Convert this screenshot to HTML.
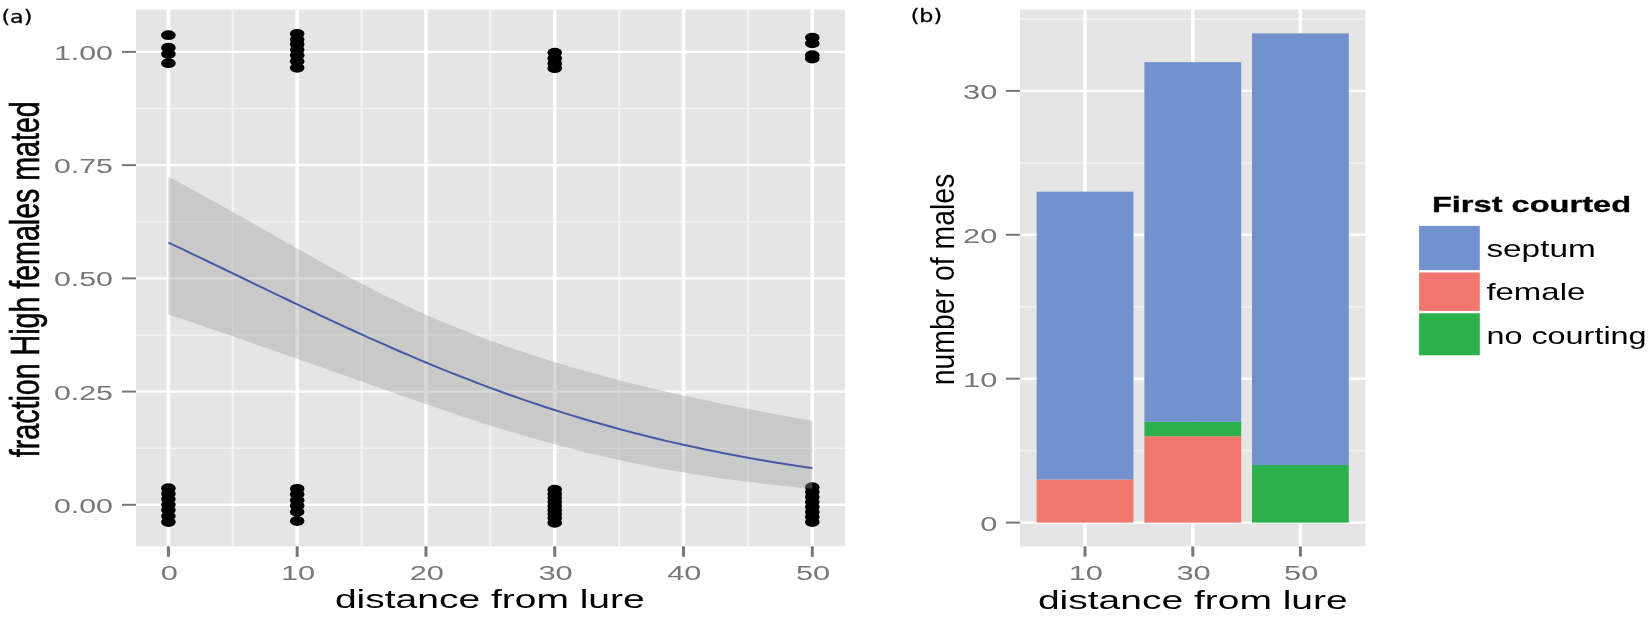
<!DOCTYPE html>
<html lang="en"><head><meta charset="utf-8"><title>Figure</title>
<style>html,body{margin:0;padding:0;background:#fff;}body{width:1650px;height:618px;overflow:hidden;}svg{display:block;filter:blur(0.45px);}</style>
</head><body>
<svg width="1650" height="618" viewBox="0 0 1650 618">
<rect x="136" y="9.7" width="709" height="536.5999999999999" fill="#e5e5e5"/>
<line x1="136" x2="845" y1="448.19" y2="448.19" stroke="#f2f2f2" stroke-width="1.4"/>
<line x1="136" x2="845" y1="334.96" y2="334.96" stroke="#f2f2f2" stroke-width="1.4"/>
<line x1="136" x2="845" y1="221.74" y2="221.74" stroke="#f2f2f2" stroke-width="1.4"/>
<line x1="136" x2="845" y1="108.51" y2="108.51" stroke="#f2f2f2" stroke-width="1.4"/>
<line y1="9.7" y2="546.3" x1="232.79" x2="232.79" stroke="#f2f2f2" stroke-width="2.2"/>
<line y1="9.7" y2="546.3" x1="361.57" x2="361.57" stroke="#f2f2f2" stroke-width="2.2"/>
<line y1="9.7" y2="546.3" x1="490.35" x2="490.35" stroke="#f2f2f2" stroke-width="2.2"/>
<line y1="9.7" y2="546.3" x1="619.13" x2="619.13" stroke="#f2f2f2" stroke-width="2.2"/>
<line y1="9.7" y2="546.3" x1="747.91" x2="747.91" stroke="#f2f2f2" stroke-width="2.2"/>
<line x1="136" x2="845" y1="504.80" y2="504.80" stroke="#fff" stroke-width="2.4"/>
<line x1="136" x2="845" y1="391.58" y2="391.58" stroke="#fff" stroke-width="2.4"/>
<line x1="136" x2="845" y1="278.35" y2="278.35" stroke="#fff" stroke-width="2.4"/>
<line x1="136" x2="845" y1="165.13" y2="165.13" stroke="#fff" stroke-width="2.4"/>
<line x1="136" x2="845" y1="51.90" y2="51.90" stroke="#fff" stroke-width="2.4"/>
<line y1="9.7" y2="546.3" x1="168.40" x2="168.40" stroke="#fff" stroke-width="3.6"/>
<line y1="9.7" y2="546.3" x1="297.18" x2="297.18" stroke="#fff" stroke-width="3.6"/>
<line y1="9.7" y2="546.3" x1="425.96" x2="425.96" stroke="#fff" stroke-width="3.6"/>
<line y1="9.7" y2="546.3" x1="554.74" x2="554.74" stroke="#fff" stroke-width="3.6"/>
<line y1="9.7" y2="546.3" x1="683.52" x2="683.52" stroke="#fff" stroke-width="3.6"/>
<line y1="9.7" y2="546.3" x1="812.30" x2="812.30" stroke="#fff" stroke-width="3.6"/>
<ellipse cx="168.40" cy="35.2" rx="7.3" ry="4.9" fill="#000"/>
<ellipse cx="168.40" cy="47.7" rx="7.3" ry="4.9" fill="#000"/>
<ellipse cx="168.40" cy="54.0" rx="7.3" ry="4.9" fill="#000"/>
<ellipse cx="168.40" cy="63.2" rx="7.3" ry="4.9" fill="#000"/>
<ellipse cx="168.40" cy="488.2" rx="7.3" ry="4.9" fill="#000"/>
<ellipse cx="168.40" cy="493.7" rx="7.3" ry="4.9" fill="#000"/>
<ellipse cx="168.40" cy="499.1" rx="7.3" ry="4.9" fill="#000"/>
<ellipse cx="168.40" cy="504.6" rx="7.3" ry="4.9" fill="#000"/>
<ellipse cx="168.40" cy="510" rx="7.3" ry="4.9" fill="#000"/>
<ellipse cx="168.40" cy="516.1" rx="7.3" ry="4.9" fill="#000"/>
<ellipse cx="168.40" cy="522.0" rx="7.3" ry="4.9" fill="#000"/>
<ellipse cx="297.18" cy="33.8" rx="7.3" ry="4.9" fill="#000"/>
<ellipse cx="297.18" cy="39.4" rx="7.3" ry="4.9" fill="#000"/>
<ellipse cx="297.18" cy="44.3" rx="7.3" ry="4.9" fill="#000"/>
<ellipse cx="297.18" cy="49.7" rx="7.3" ry="4.9" fill="#000"/>
<ellipse cx="297.18" cy="55.2" rx="7.3" ry="4.9" fill="#000"/>
<ellipse cx="297.18" cy="61.3" rx="7.3" ry="4.9" fill="#000"/>
<ellipse cx="297.18" cy="67.8" rx="7.3" ry="4.9" fill="#000"/>
<ellipse cx="297.18" cy="488.8" rx="7.3" ry="4.9" fill="#000"/>
<ellipse cx="297.18" cy="494.3" rx="7.3" ry="4.9" fill="#000"/>
<ellipse cx="297.18" cy="500.3" rx="7.3" ry="4.9" fill="#000"/>
<ellipse cx="297.18" cy="505.8" rx="7.3" ry="4.9" fill="#000"/>
<ellipse cx="297.18" cy="511.9" rx="7.3" ry="4.9" fill="#000"/>
<ellipse cx="297.18" cy="521.0" rx="7.3" ry="4.9" fill="#000"/>
<ellipse cx="554.74" cy="52.6" rx="7.3" ry="4.9" fill="#000"/>
<ellipse cx="554.74" cy="58.2" rx="7.3" ry="4.9" fill="#000"/>
<ellipse cx="554.74" cy="63.5" rx="7.3" ry="4.9" fill="#000"/>
<ellipse cx="554.74" cy="68.2" rx="7.3" ry="4.9" fill="#000"/>
<ellipse cx="554.74" cy="489.6" rx="7.3" ry="4.9" fill="#000"/>
<ellipse cx="554.74" cy="494" rx="7.3" ry="4.9" fill="#000"/>
<ellipse cx="554.74" cy="498" rx="7.3" ry="4.9" fill="#000"/>
<ellipse cx="554.74" cy="502" rx="7.3" ry="4.9" fill="#000"/>
<ellipse cx="554.74" cy="506" rx="7.3" ry="4.9" fill="#000"/>
<ellipse cx="554.74" cy="510" rx="7.3" ry="4.9" fill="#000"/>
<ellipse cx="554.74" cy="514" rx="7.3" ry="4.9" fill="#000"/>
<ellipse cx="554.74" cy="518" rx="7.3" ry="4.9" fill="#000"/>
<ellipse cx="554.74" cy="522.8" rx="7.3" ry="4.9" fill="#000"/>
<ellipse cx="812.30" cy="37.6" rx="7.3" ry="4.9" fill="#000"/>
<ellipse cx="812.30" cy="43.4" rx="7.3" ry="4.9" fill="#000"/>
<ellipse cx="812.30" cy="55.2" rx="7.3" ry="4.9" fill="#000"/>
<ellipse cx="812.30" cy="58.6" rx="7.3" ry="4.9" fill="#000"/>
<ellipse cx="812.30" cy="487.2" rx="7.3" ry="4.9" fill="#000"/>
<ellipse cx="812.30" cy="492" rx="7.3" ry="4.9" fill="#000"/>
<ellipse cx="812.30" cy="497" rx="7.3" ry="4.9" fill="#000"/>
<ellipse cx="812.30" cy="502" rx="7.3" ry="4.9" fill="#000"/>
<ellipse cx="812.30" cy="507" rx="7.3" ry="4.9" fill="#000"/>
<ellipse cx="812.30" cy="512" rx="7.3" ry="4.9" fill="#000"/>
<ellipse cx="812.30" cy="517" rx="7.3" ry="4.9" fill="#000"/>
<ellipse cx="812.30" cy="522.0" rx="7.3" ry="4.9" fill="#000"/>
<polygon points="168.40,176.94 176.45,181.12 184.50,185.37 192.55,189.68 200.59,194.04 208.64,198.45 216.69,202.91 224.74,207.40 232.79,211.93 240.84,216.48 248.89,221.06 256.94,225.65 264.99,230.24 273.03,234.84 281.08,239.43 289.13,244.01 297.18,248.58 305.23,253.11 313.28,257.62 321.33,262.09 329.38,266.51 337.42,270.89 345.47,275.22 353.52,279.48 361.57,283.69 369.62,287.82 377.67,291.89 385.72,295.88 393.76,299.80 401.81,303.64 409.86,307.40 417.91,311.08 425.96,314.68 434.01,318.20 442.06,321.64 450.11,325.00 458.15,328.28 466.20,331.48 474.25,334.61 482.30,337.66 490.35,340.64 498.40,343.55 506.45,346.39 514.50,349.16 522.54,351.87 530.59,354.52 538.64,357.11 546.69,359.64 554.74,362.12 562.79,364.54 570.84,366.91 578.89,369.23 586.94,371.50 594.98,373.72 603.03,375.90 611.08,378.04 619.13,380.14 627.18,382.19 635.23,384.21 643.28,386.19 651.33,388.13 659.37,390.04 667.42,391.91 675.47,393.75 683.52,395.55 691.57,397.33 699.62,399.07 707.67,400.79 715.72,402.48 723.76,404.14 731.81,405.77 739.86,407.37 747.91,408.95 755.96,410.50 764.01,412.03 772.06,413.53 780.11,415.01 788.15,416.47 796.20,417.90 804.25,419.31 812.30,420.70 812.30,488.69 804.25,487.95 796.20,487.18 788.15,486.37 780.11,485.54 772.06,484.67 764.01,483.76 755.96,482.81 747.91,481.83 739.86,480.81 731.81,479.75 723.76,478.65 715.72,477.50 707.67,476.31 699.62,475.08 691.57,473.80 683.52,472.47 675.47,471.10 667.42,469.68 659.37,468.21 651.33,466.68 643.28,465.11 635.23,463.49 627.18,461.81 619.13,460.08 611.08,458.30 603.03,456.47 594.98,454.58 586.94,452.64 578.89,450.64 570.84,448.60 562.79,446.50 554.74,444.35 546.69,442.15 538.64,439.90 530.59,437.60 522.54,435.26 514.50,432.87 506.45,430.43 498.40,427.95 490.35,425.44 482.30,422.88 474.25,420.29 466.20,417.66 458.15,415.01 450.11,412.32 442.06,409.61 434.01,406.87 425.96,404.11 417.91,401.34 409.86,398.54 401.81,395.73 393.76,392.91 385.72,390.08 377.67,387.24 369.62,384.39 361.57,381.54 353.52,378.69 345.47,375.84 337.42,372.99 329.38,370.13 321.33,367.28 313.28,364.44 305.23,361.60 297.18,358.76 289.13,355.93 281.08,353.11 273.03,350.30 264.99,347.49 256.94,344.69 248.89,341.90 240.84,339.11 232.79,336.34 224.74,333.57 216.69,330.81 208.64,328.06 200.59,325.32 192.55,322.59 184.50,319.87 176.45,317.16 168.40,314.45" fill="#999" fill-opacity="0.375"/>
<polyline points="168.40,242.57 176.45,246.37 184.50,250.19 192.55,254.03 200.59,257.88 208.64,261.74 216.69,265.61 224.74,269.49 232.79,273.37 240.84,277.26 248.89,281.15 256.94,285.04 264.99,288.92 273.03,292.80 281.08,296.67 289.13,300.52 297.18,304.37 305.23,308.20 313.28,312.01 321.33,315.80 329.38,319.57 337.42,323.32 345.47,327.04 353.52,330.74 361.57,334.40 369.62,338.04 377.67,341.64 385.72,345.21 393.76,348.74 401.81,352.23 409.86,355.69 417.91,359.10 425.96,362.47 434.01,365.80 442.06,369.09 450.11,372.33 458.15,375.53 466.20,378.68 474.25,381.78 482.30,384.83 490.35,387.84 498.40,390.79 506.45,393.70 514.50,396.55 522.54,399.35 530.59,402.11 538.64,404.81 546.69,407.46 554.74,410.06 562.79,412.60 570.84,415.10 578.89,417.55 586.94,419.94 594.98,422.28 603.03,424.57 611.08,426.82 619.13,429.01 627.18,431.15 635.23,433.24 643.28,435.29 651.33,437.29 659.37,439.24 667.42,441.14 675.47,442.99 683.52,444.80 691.57,446.57 699.62,448.29 707.67,449.97 715.72,451.60 723.76,453.19 731.81,454.74 739.86,456.25 747.91,457.72 755.96,459.15 764.01,460.54 772.06,461.89 780.11,463.21 788.15,464.49 796.20,465.73 804.25,466.94 812.30,468.11" fill="none" stroke="#475aa6" stroke-width="2"/>
<line x1="122" x2="136" y1="504.80" y2="504.80" stroke="#777777" stroke-width="2"/>
<text transform="translate(113.00,512.90) scale(1.48,1.0)" font-family='"Liberation Sans", sans-serif' font-size="20.5" text-anchor="end" fill="#777777" font-weight="normal">0.00</text>
<line x1="122" x2="136" y1="391.58" y2="391.58" stroke="#777777" stroke-width="2"/>
<text transform="translate(113.00,399.68) scale(1.48,1.0)" font-family='"Liberation Sans", sans-serif' font-size="20.5" text-anchor="end" fill="#777777" font-weight="normal">0.25</text>
<line x1="122" x2="136" y1="278.35" y2="278.35" stroke="#777777" stroke-width="2"/>
<text transform="translate(113.00,286.45) scale(1.48,1.0)" font-family='"Liberation Sans", sans-serif' font-size="20.5" text-anchor="end" fill="#777777" font-weight="normal">0.50</text>
<line x1="122" x2="136" y1="165.13" y2="165.13" stroke="#777777" stroke-width="2"/>
<text transform="translate(113.00,173.23) scale(1.48,1.0)" font-family='"Liberation Sans", sans-serif' font-size="20.5" text-anchor="end" fill="#777777" font-weight="normal">0.75</text>
<line x1="122" x2="136" y1="51.90" y2="51.90" stroke="#777777" stroke-width="2"/>
<text transform="translate(113.00,60.00) scale(1.48,1.0)" font-family='"Liberation Sans", sans-serif' font-size="20.5" text-anchor="end" fill="#777777" font-weight="normal">1.00</text>
<line y1="546.3" y2="556.8" x1="168.40" x2="168.40" stroke="#777777" stroke-width="3"/>
<text transform="translate(169.20,580.30) scale(1.5,1.0)" font-family='"Liberation Sans", sans-serif' font-size="20.5" text-anchor="middle" fill="#777777" font-weight="normal">0</text>
<line y1="546.3" y2="556.8" x1="297.18" x2="297.18" stroke="#777777" stroke-width="3"/>
<text transform="translate(297.98,580.30) scale(1.5,1.0)" font-family='"Liberation Sans", sans-serif' font-size="20.5" text-anchor="middle" fill="#777777" font-weight="normal">10</text>
<line y1="546.3" y2="556.8" x1="425.96" x2="425.96" stroke="#777777" stroke-width="3"/>
<text transform="translate(426.76,580.30) scale(1.5,1.0)" font-family='"Liberation Sans", sans-serif' font-size="20.5" text-anchor="middle" fill="#777777" font-weight="normal">20</text>
<line y1="546.3" y2="556.8" x1="554.74" x2="554.74" stroke="#777777" stroke-width="3"/>
<text transform="translate(555.54,580.30) scale(1.5,1.0)" font-family='"Liberation Sans", sans-serif' font-size="20.5" text-anchor="middle" fill="#777777" font-weight="normal">30</text>
<line y1="546.3" y2="556.8" x1="683.52" x2="683.52" stroke="#777777" stroke-width="3"/>
<text transform="translate(684.32,580.30) scale(1.5,1.0)" font-family='"Liberation Sans", sans-serif' font-size="20.5" text-anchor="middle" fill="#777777" font-weight="normal">40</text>
<line y1="546.3" y2="556.8" x1="812.30" x2="812.30" stroke="#777777" stroke-width="3"/>
<text transform="translate(813.10,580.30) scale(1.5,1.0)" font-family='"Liberation Sans", sans-serif' font-size="20.5" text-anchor="middle" fill="#777777" font-weight="normal">50</text>
<text transform="translate(489.80,608.40) scale(1.5,1.0)" font-family='"Liberation Sans", sans-serif' font-size="26" text-anchor="middle" fill="#000" font-weight="normal">distance from lure</text>
<text transform="translate(38.90,279.20) rotate(-90) scale(1.0,1.44)" font-family='"Liberation Sans", sans-serif' font-size="28.6" text-anchor="middle" fill="#000" font-weight="normal" stroke="#000" stroke-width="0.45">fraction High females mated</text>
<text transform="translate(16.90,22.90) scale(1.21,1.0)" font-family='"DejaVu Sans", "Liberation Sans", sans-serif' font-size="18.4" text-anchor="middle" fill="#000" font-weight="normal" stroke="#000" stroke-width="0.3">(a)</text>
<rect x="1020.1" y="9.7" width="345.19999999999993" height="536.6999999999999" fill="#e5e5e5"/>
<line x1="1020.1" x2="1365.3" y1="450.65" y2="450.65" stroke="#f2f2f2" stroke-width="1.4"/>
<line x1="1020.1" x2="1365.3" y1="306.75" y2="306.75" stroke="#f2f2f2" stroke-width="1.4"/>
<line x1="1020.1" x2="1365.3" y1="162.85" y2="162.85" stroke="#f2f2f2" stroke-width="1.4"/>
<line x1="1020.1" x2="1365.3" y1="18.95" y2="18.95" stroke="#f2f2f2" stroke-width="1.4"/>
<line x1="1020.1" x2="1365.3" y1="522.60" y2="522.60" stroke="#fff" stroke-width="2.4"/>
<line x1="1020.1" x2="1365.3" y1="378.70" y2="378.70" stroke="#fff" stroke-width="2.4"/>
<line x1="1020.1" x2="1365.3" y1="234.80" y2="234.80" stroke="#fff" stroke-width="2.4"/>
<line x1="1020.1" x2="1365.3" y1="90.90" y2="90.90" stroke="#fff" stroke-width="2.4"/>
<line y1="9.7" y2="546.4" x1="1085.0" x2="1085.0" stroke="#fff" stroke-width="3.6"/>
<line y1="9.7" y2="546.4" x1="1192.8" x2="1192.8" stroke="#fff" stroke-width="3.6"/>
<line y1="9.7" y2="546.4" x1="1300.4" x2="1300.4" stroke="#fff" stroke-width="3.6"/>
<rect x="1036.60" y="479.43" width="96.8" height="43.17" fill="#f1766e"/>
<rect x="1036.60" y="191.63" width="96.8" height="287.80" fill="#7192cf"/>
<rect x="1144.40" y="436.26" width="96.8" height="86.34" fill="#f1766e"/>
<rect x="1144.40" y="421.87" width="96.8" height="14.39" fill="#2bb04c"/>
<rect x="1144.40" y="62.12" width="96.8" height="359.75" fill="#7192cf"/>
<rect x="1252.00" y="465.04" width="96.8" height="57.56" fill="#2bb04c"/>
<rect x="1252.00" y="33.34" width="96.8" height="431.70" fill="#7192cf"/>
<line x1="1006" x2="1020.1" y1="522.60" y2="522.60" stroke="#777777" stroke-width="2"/>
<text transform="translate(997.30,530.70) scale(1.5,1.0)" font-family='"Liberation Sans", sans-serif' font-size="20.5" text-anchor="end" fill="#777777" font-weight="normal">0</text>
<line x1="1006" x2="1020.1" y1="378.70" y2="378.70" stroke="#777777" stroke-width="2"/>
<text transform="translate(997.30,386.80) scale(1.5,1.0)" font-family='"Liberation Sans", sans-serif' font-size="20.5" text-anchor="end" fill="#777777" font-weight="normal">10</text>
<line x1="1006" x2="1020.1" y1="234.80" y2="234.80" stroke="#777777" stroke-width="2"/>
<text transform="translate(997.30,242.90) scale(1.5,1.0)" font-family='"Liberation Sans", sans-serif' font-size="20.5" text-anchor="end" fill="#777777" font-weight="normal">20</text>
<line x1="1006" x2="1020.1" y1="90.90" y2="90.90" stroke="#777777" stroke-width="2"/>
<text transform="translate(997.30,99.00) scale(1.5,1.0)" font-family='"Liberation Sans", sans-serif' font-size="20.5" text-anchor="end" fill="#777777" font-weight="normal">30</text>
<line y1="546.4" y2="556.6" x1="1085.0" x2="1085.0" stroke="#777777" stroke-width="3"/>
<text transform="translate(1085.80,580.30) scale(1.5,1.0)" font-family='"Liberation Sans", sans-serif' font-size="20.5" text-anchor="middle" fill="#777777" font-weight="normal">10</text>
<line y1="546.4" y2="556.6" x1="1192.8" x2="1192.8" stroke="#777777" stroke-width="3"/>
<text transform="translate(1193.60,580.30) scale(1.5,1.0)" font-family='"Liberation Sans", sans-serif' font-size="20.5" text-anchor="middle" fill="#777777" font-weight="normal">30</text>
<line y1="546.4" y2="556.6" x1="1300.4" x2="1300.4" stroke="#777777" stroke-width="3"/>
<text transform="translate(1301.20,580.30) scale(1.5,1.0)" font-family='"Liberation Sans", sans-serif' font-size="20.5" text-anchor="middle" fill="#777777" font-weight="normal">50</text>
<text transform="translate(1192.80,608.60) scale(1.5,1.0)" font-family='"Liberation Sans", sans-serif' font-size="26" text-anchor="middle" fill="#000" font-weight="normal">distance from lure</text>
<text transform="translate(953.80,279.50) rotate(-90) scale(1.0,1.15)" font-family='"Liberation Sans", sans-serif' font-size="28.4" text-anchor="middle" fill="#000" font-weight="normal">number of males</text>
<text transform="translate(926.40,21.80) scale(1.21,1.0)" font-family='"DejaVu Sans", "Liberation Sans", sans-serif' font-size="18.4" text-anchor="middle" fill="#000" font-weight="normal" stroke="#000" stroke-width="0.3">(b)</text>
<text transform="translate(1431.90,212.00) scale(1.449,1.0)" font-family='"Liberation Sans", sans-serif' font-size="22.5" text-anchor="start" fill="#000" font-weight="bold" stroke="#000" stroke-width="0.3">First courted</text>
<rect x="1419.1" y="225.9" width="60.7" height="44.20" fill="#7192cf"/>
<text transform="translate(1486.40,257.20) scale(1.45,1.0)" font-family='"Liberation Sans", sans-serif' font-size="23" text-anchor="start" fill="#000" font-weight="normal">septum</text>
<rect x="1419.1" y="272.5" width="60.7" height="38.40" fill="#f1766e"/>
<text transform="translate(1486.40,299.70) scale(1.433,1.0)" font-family='"Liberation Sans", sans-serif' font-size="23" text-anchor="start" fill="#000" font-weight="normal">female</text>
<rect x="1419.1" y="313.3" width="60.7" height="42.00" fill="#2bb04c"/>
<text transform="translate(1486.40,344.00) scale(1.408,1.0)" font-family='"Liberation Sans", sans-serif' font-size="23" text-anchor="start" fill="#000" font-weight="normal">no courting</text>
</svg>
</body></html>
